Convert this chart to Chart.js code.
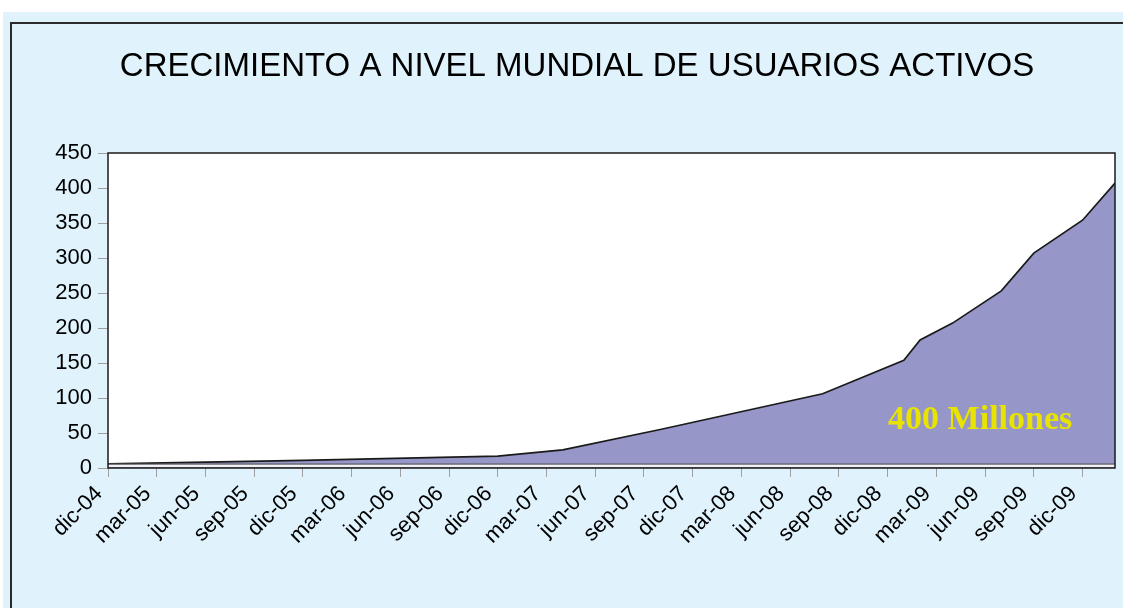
<!DOCTYPE html>
<html>
<head>
<meta charset="utf-8">
<script src="https://cdn.jsdelivr.net/npm/chart.js@4.4.1/dist/chart.umd.min.js"></script>
<style>
  html, body { margin: 0; padding: 0; background: #ffffff; }
  #page { position: relative; width: 1123px; height: 608px; overflow: hidden; }
  #panel { position: absolute; left: 3px; top: 12px; right: 0; bottom: 0; background: #e0f3fc; }
  #frame { position: absolute; left: 7px; top: 10px; width: 1300px; height: 800px;
           border-left: 2px solid #2b2b2b; border-top: 2px solid #2b2b2b; }
  #usersChart { position: absolute; left: 0; top: 0; }
</style>
</head>
<body>
<div id="page">
  <div id="panel"><div id="frame"></div></div>
  <canvas id="usersChart" width="1123" height="608"></canvas>
</div>
<script>
/* ===== data (months counted from dic-04) ===== */
const months = [0, 12, 24, 28, 34, 44, 49, 50, 52, 55, 57, 60, 62];
const users = [6, 11, 17, 26, 55, 106, 154, 183, 207, 253, 307, 354, 407];

// one label every 3 months
const tickLabels = [
  "dic-04", "mar-05", "jun-05", "sep-05", "dic-05", "mar-06", "jun-06",
  "sep-06", "dic-06", "mar-07", "jun-07", "sep-07", "dic-07", "mar-08",
  "jun-08", "sep-08", "dic-08", "mar-09", "jun-09", "sep-09", "dic-09",
];
const yTicks = [0, 50, 100, 150, 200, 250, 300, 350, 400, 450];

const chartTitle = "CRECIMIENTO A NIVEL MUNDIAL DE USUARIOS ACTIVOS";
const noteText = "400 Millones";

// white plot box, bottom double rule, frame and the yellow note
const plotBox = {
  id: "plotBox",
  beforeDraw(chart) {
    const { ctx, chartArea: a } = chart;
    ctx.save();
    ctx.fillStyle = "#ffffff";
    ctx.fillRect(a.left, a.top, a.right - a.left, a.bottom - a.top);
    ctx.restore();
  },
  afterDatasetsDraw(chart) {
    const { ctx, chartArea: a, scales } = chart;
    ctx.save();
    // double rule at the floor
    ctx.fillStyle = "#f2f2f2";
    ctx.fillRect(a.left, a.bottom - 3.5, a.right - a.left, 2.5);
    ctx.strokeStyle = "#555";
    ctx.lineWidth = 1;
    ctx.beginPath();
    ctx.moveTo(a.left, a.bottom - 4);
    ctx.lineTo(a.right, a.bottom - 4);
    ctx.stroke();
    // box
    ctx.strokeStyle = "#1a1a1a";
    ctx.lineWidth = 1.5;
    ctx.strokeRect(a.left, a.top, a.right - a.left, a.bottom - a.top);
    // note
    ctx.font = 'bold 34px "Liberation Serif", "Times New Roman", serif';
    ctx.fillStyle = "#e8e400";
    ctx.textAlign = "center";
    ctx.textBaseline = "alphabetic";
    ctx.fillText(noteText, scales.x.getPixelForValue(53.7), scales.y.getPixelForValue(56));
    ctx.restore();
  },
};

new Chart(document.getElementById("usersChart"), {
  type: "line",
  data: {
    datasets: [
      {
        label: "Usuarios activos",
        data: months.map((m, i) => ({ x: m, y: users[i] })),
        borderColor: "#1a1a1a",
        borderWidth: 1.7,
        backgroundColor: "rgb(150, 150, 200)",
        fill: "origin",
        tension: 0,
        pointRadius: 0,
      },
    ],
  },
  options: {
    responsive: false,
    animation: false,
    layout: { padding: { left: 39, right: 8, top: 0, bottom: 30 } },
    plugins: {
      legend: { display: false },
      tooltip: { enabled: false },
      title: {
        display: true,
        text: chartTitle,
        color: "#000000",
        font: { family: '"Liberation Sans", Arial, sans-serif', size: 33, weight: "normal" },
        padding: { top: 47, bottom: 66.4 },
      },
    },
    scales: {
      x: {
        type: "linear",
        min: 0,
        max: 62,
        afterFit: (s) => { s.height = 110; },
        border: { display: false },
        grid: { drawOnChartArea: false, drawTicks: true, tickLength: 9, color: "#a0a0a0" },
        ticks: {
          stepSize: 3,
          includeBounds: false,
          autoSkip: false,
          minRotation: 45,
          maxRotation: 45,
          padding: 4,
          labelOffset: -9,
          color: "#000000",
          font: { family: '"Liberation Sans", Arial, sans-serif', size: 22 },
          callback: (v) => tickLabels[v / 3] || "",
        },
      },
      y: {
        min: 0,
        max: 450,
        afterFit: (s) => { s.width = 69; },
        afterBuildTicks: (s) => { s.ticks = yTicks.map((v) => ({ value: v })); },
        border: { display: false },
        grid: { drawOnChartArea: false, drawTicks: true, tickLength: 10, color: "#a0a0a0" },
        ticks: {
          padding: 6,
          color: "#000000",
          font: { family: '"Liberation Sans", Arial, sans-serif', size: 22 },
        },
      },
    },
  },
  plugins: [plotBox],
});
</script>
</body>
</html>
